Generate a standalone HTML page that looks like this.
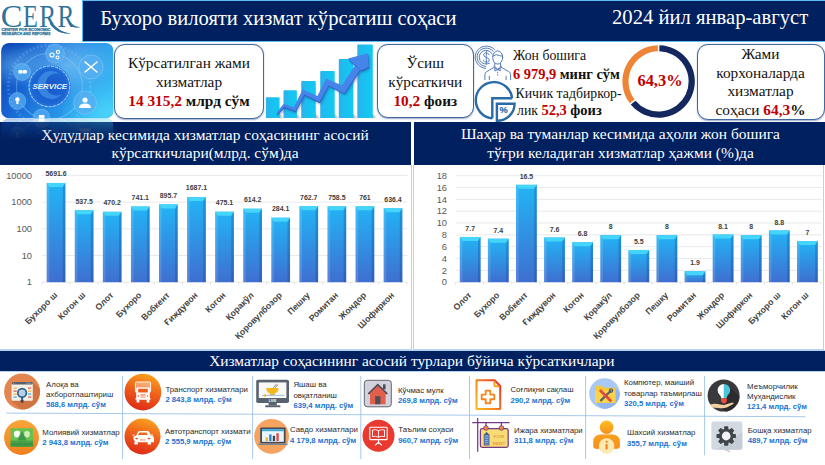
<!DOCTYPE html>
<html><head><meta charset="utf-8">
<style>
html,body{margin:0;padding:0;}
body{width:825px;height:465px;overflow:hidden;background:#fff;position:relative;font-family:"Liberation Serif",serif;}
.abs{position:absolute;}
.navy{background:#002060;}
.ttl{color:#fff;font-family:"Liberation Serif",serif;white-space:nowrap;}
.box{position:absolute;border:1px solid #41689f;border-radius:11px;background:#fff;box-sizing:border-box;text-align:center;font-family:"Liberation Serif",serif;color:#111;box-shadow:0 0.5px 1.5px rgba(60,90,150,.5);white-space:nowrap;}
.red{color:#c00000;font-weight:bold;}
.b{font-weight:bold;}
svg text.ax{font-family:"Liberation Sans",sans-serif;font-size:9.3px;fill:#595959;}
svg text.vl{font-family:"Liberation Sans",sans-serif;font-size:6.95px;font-weight:bold;fill:#404040;}
svg text.ct{font-family:"Liberation Sans",sans-serif;font-size:8.75px;font-weight:bold;fill:#454545;}
svg text.it{font-family:"Liberation Sans",sans-serif;font-size:7.85px;fill:#2b2b2b;}
svg text.iv{font-family:"Liberation Sans",sans-serif;font-size:7.7px;font-weight:bold;fill:#1a72d2;}
</style></head><body>
<!-- top banner -->
<div class="abs" style="left:81.7px;top:0;width:744px;height:41.9px;background:#5dbcf0;"></div>
<div class="abs navy" style="left:82.9px;top:1px;width:743px;height:40.1px;"></div>
<div class="abs ttl" style="left:100.3px;top:1.7px;font-size:20.6px;line-height:32px;">Бухоро вилояти хизмат кўрсатиш соҳаси</div>
<div class="abs ttl" style="left:612px;top:1.4px;font-size:20.65px;line-height:32px;">2024 йил январ-август</div>
<!-- logo -->

<svg class="abs" style="left:0;top:0" width="82" height="42" viewBox="0 0 82 42">
<g fill="#2f7399" font-family="Liberation Serif" font-size="30.3">
<text transform="translate(0.7,26.8) scale(1.07,1.06)">C</text>
<text transform="translate(23,26.8) scale(0.8,1.06)">E</text>
<text transform="translate(39.2,26.8) scale(0.84,1.06)">R</text>
<text transform="translate(57.6,26.8) scale(0.84,1.06)">R</text>
<path d="M52.2 22.5 C56.5 28.5 62 32.6 70.8 33.3 C62 34.6 55 31 49.8 23.6 Z"/>
<path d="M70.6 22.5 C73.5 25.6 76.5 27 80.8 27 C76.5 28.6 72 27.6 68.2 23.6 Z"/>
<rect x="53" y="24.5" width="5" height="3" fill="#fff"/>
<path d="M52.2 22.5 C56.5 28.5 62 32.6 70.8 33.3 C62 34.6 55 31 49.8 23.6 Z"/>
<text x="1.4" y="30.9" font-family="Liberation Sans" font-weight="bold" font-size="3.9" textLength="49" lengthAdjust="spacingAndGlyphs" stroke="#2f7399" stroke-width="0.25">CENTER FOR ECONOMIC</text>
<text x="1.4" y="35" font-family="Liberation Sans" font-weight="bold" font-size="3.9" textLength="49" lengthAdjust="spacingAndGlyphs" stroke="#2f7399" stroke-width="0.25">RESEARCH AND REFORMS</text>
</g>
</svg>

<!-- section headers -->
<div class="abs navy" style="left:0px;top:121.7px;width:411px;height:43px;"></div>
<div class="abs navy" style="left:414.2px;top:121.7px;width:411px;height:43px;"></div>
<div class="abs ttl" style="left:0;top:125.8px;width:410px;text-align:center;font-size:15.45px;line-height:18.4px;">Ҳудудлар кесимида хизматлар соҳасининг асосий<br>кўрсаткичлари(млрд. сўм)да</div>
<div class="abs ttl" style="left:415px;top:125.3px;width:411px;text-align:center;font-size:15.48px;line-height:18.5px;">Шаҳар ва туманлар кесимида аҳоли жон бошига<br>тўғри келадиган хизматлар ҳажми (%)да</div>
<!-- service image -->
<svg class="abs" style="left:0;top:40px" width="120" height="100" viewBox="0 40 120 100">
<defs>
<linearGradient id="sv1" x1="0" y1="0.2" x2="1" y2="0.6"><stop offset="0" stop-color="#0a44b6"/><stop offset="0.3" stop-color="#1665d2"/><stop offset="0.65" stop-color="#2590e6"/><stop offset="1" stop-color="#2fb6f3"/></linearGradient>
<radialGradient id="sv2" cx="0.6" cy="0.3" r="0.5"><stop offset="0" stop-color="#8fd6fb" stop-opacity="0.6"/><stop offset="1" stop-color="#7fd0fb" stop-opacity="0"/></radialGradient><radialGradient id="sv4" cx="0.98" cy="0.95" r="0.45"><stop offset="0" stop-color="#4fd6fb" stop-opacity="0.9"/><stop offset="1" stop-color="#4fd6fb" stop-opacity="0"/></radialGradient><radialGradient id="sv5" cx="0.12" cy="0.3" r="0.3"><stop offset="0" stop-color="#6fc4f6" stop-opacity="0.55"/><stop offset="1" stop-color="#6fc4f6" stop-opacity="0"/></radialGradient>
<radialGradient id="sv3" cx="0.5" cy="0.5" r="0.5"><stop offset="0" stop-color="#1858c8"/><stop offset="0.8" stop-color="#1c66d4"/><stop offset="1" stop-color="#2a80e2"/></radialGradient>
<linearGradient id="rf" x1="0" y1="0" x2="0" y2="1"><stop offset="0" stop-color="#fff" stop-opacity="0.36"/><stop offset="1" stop-color="#fff" stop-opacity="0"/></linearGradient>
<mask id="rfm"><rect x="0" y="118" width="120" height="22" fill="url(#rf)"/></mask>
<clipPath id="svc"><rect x="1.2" y="43" width="112.4" height="75.4" rx="8"/></clipPath>
</defs>
<g clip-path="url(#svc)"><rect x="1" y="42.3" width="112.3" height="76" fill="url(#sv1)"/>
<rect x="1" y="42.3" width="112.3" height="76" fill="url(#sv2)"/>
<rect x="1" y="42.3" width="112.3" height="76" fill="url(#sv4)"/>
<rect x="1" y="42.3" width="112.3" height="76" fill="url(#sv5)"/>
<circle cx="49.4" cy="86.4" r="33" fill="none" stroke="#9fd8ff" stroke-opacity="0.35" stroke-width="1.2"/>
<circle cx="49.4" cy="86.4" r="41" fill="none" stroke="#9fd8ff" stroke-opacity="0.22" stroke-width="3" stroke-dasharray="2 2"/>
<circle cx="55" cy="53.5" r="9.5" fill="#58aef2" fill-opacity="0.7" stroke="#bfe6ff" stroke-opacity="0.45" stroke-width="0.6"/>
<circle cx="91" cy="67" r="12" fill="#58aef2" fill-opacity="0.7" stroke="#bfe6ff" stroke-opacity="0.45" stroke-width="0.6"/>
<circle cx="85" cy="102.8" r="11.5" fill="#58aef2" fill-opacity="0.7" stroke="#bfe6ff" stroke-opacity="0.45" stroke-width="0.6"/>
<circle cx="17.4" cy="101" r="8.5" fill="#58aef2" fill-opacity="0.7" stroke="#bfe6ff" stroke-opacity="0.45" stroke-width="0.6"/>
<circle cx="22" cy="72" r="8.5" fill="#58aef2" fill-opacity="0.7" stroke="#bfe6ff" stroke-opacity="0.45" stroke-width="0.6"/>
<circle cx="41.6" cy="117" r="8" fill="#58aef2" fill-opacity="0.7" stroke="#bfe6ff" stroke-opacity="0.45" stroke-width="0.6"/>
<circle cx="49.4" cy="86.4" r="21.5" fill="url(#sv3)"/>
<path d="M60 74 a14 14 0 1 0 2 20 a11 11 0 1 1 -2 -20 z" fill="#4fa0ee" opacity="0.55"/>
<circle cx="49.4" cy="86.4" r="20.3" fill="none" stroke="#e8f6ff" stroke-opacity="0.85" stroke-width="0.9" stroke-dasharray="3.2 1"/>
<text x="49.8" y="89.3" text-anchor="middle" font-family="Liberation Sans" font-weight="bold" font-style="italic" font-size="7.6" textLength="34.5" lengthAdjust="spacingAndGlyphs" fill="#eaf6ff">SERVICE</text>
<g fill="none" stroke="#fff" stroke-width="1.1"><circle cx="52" cy="55" r="2"/><circle cx="58" cy="52" r="1.6"/><circle cx="57.5" cy="57.5" r="1.5"/></g>
<g stroke="#fff" stroke-width="1.6" stroke-linecap="round"><line x1="85" y1="62" x2="97" y2="72"/><line x1="97" y1="62" x2="85" y2="72"/></g>
<g fill="#fff"><circle cx="85" cy="100" r="2.6"/><path d="M79 108 q0 -4.5 6 -4.5 q6 0 6 4.5 z"/></g>
<g fill="#fff"><circle cx="17.4" cy="99.5" r="2.2"/><rect x="16.3" y="101.5" width="2.2" height="2.6"/></g>
<g fill="#fff"><rect x="18.5" y="70" width="4" height="3.6" rx="1.2"/><rect x="22.8" y="70" width="4" height="3.6" rx="1.2"/></g>
<rect x="38.8" y="115" width="5.6" height="4" fill="#fff"/></g>
<g mask="url(#rfm)"><g transform="translate(0,236.6) scale(1,-1)" clip-path="url(#svc)"><rect x="1" y="42.3" width="112.3" height="76" fill="url(#sv1)"/>
<rect x="1" y="42.3" width="112.3" height="76" fill="url(#sv2)"/>
<rect x="1" y="42.3" width="112.3" height="76" fill="url(#sv4)"/>
<rect x="1" y="42.3" width="112.3" height="76" fill="url(#sv5)"/>
<circle cx="49.4" cy="86.4" r="33" fill="none" stroke="#9fd8ff" stroke-opacity="0.35" stroke-width="1.2"/>
<circle cx="49.4" cy="86.4" r="41" fill="none" stroke="#9fd8ff" stroke-opacity="0.22" stroke-width="3" stroke-dasharray="2 2"/>
<circle cx="55" cy="53.5" r="9.5" fill="#58aef2" fill-opacity="0.7" stroke="#bfe6ff" stroke-opacity="0.45" stroke-width="0.6"/>
<circle cx="91" cy="67" r="12" fill="#58aef2" fill-opacity="0.7" stroke="#bfe6ff" stroke-opacity="0.45" stroke-width="0.6"/>
<circle cx="85" cy="102.8" r="11.5" fill="#58aef2" fill-opacity="0.7" stroke="#bfe6ff" stroke-opacity="0.45" stroke-width="0.6"/>
<circle cx="17.4" cy="101" r="8.5" fill="#58aef2" fill-opacity="0.7" stroke="#bfe6ff" stroke-opacity="0.45" stroke-width="0.6"/>
<circle cx="22" cy="72" r="8.5" fill="#58aef2" fill-opacity="0.7" stroke="#bfe6ff" stroke-opacity="0.45" stroke-width="0.6"/>
<circle cx="41.6" cy="117" r="8" fill="#58aef2" fill-opacity="0.7" stroke="#bfe6ff" stroke-opacity="0.45" stroke-width="0.6"/>
<circle cx="49.4" cy="86.4" r="21.5" fill="url(#sv3)"/>
<path d="M60 74 a14 14 0 1 0 2 20 a11 11 0 1 1 -2 -20 z" fill="#4fa0ee" opacity="0.55"/>
<circle cx="49.4" cy="86.4" r="20.3" fill="none" stroke="#e8f6ff" stroke-opacity="0.85" stroke-width="0.9" stroke-dasharray="3.2 1"/>
<text x="49.8" y="89.3" text-anchor="middle" font-family="Liberation Sans" font-weight="bold" font-style="italic" font-size="7.6" textLength="34.5" lengthAdjust="spacingAndGlyphs" fill="#eaf6ff">SERVICE</text>
<g fill="none" stroke="#fff" stroke-width="1.1"><circle cx="52" cy="55" r="2"/><circle cx="58" cy="52" r="1.6"/><circle cx="57.5" cy="57.5" r="1.5"/></g>
<g stroke="#fff" stroke-width="1.6" stroke-linecap="round"><line x1="85" y1="62" x2="97" y2="72"/><line x1="97" y1="62" x2="85" y2="72"/></g>
<g fill="#fff"><circle cx="85" cy="100" r="2.6"/><path d="M79 108 q0 -4.5 6 -4.5 q6 0 6 4.5 z"/></g>
<g fill="#fff"><circle cx="17.4" cy="99.5" r="2.2"/><rect x="16.3" y="101.5" width="2.2" height="2.6"/></g>
<g fill="#fff"><rect x="18.5" y="70" width="4" height="3.6" rx="1.2"/><rect x="22.8" y="70" width="4" height="3.6" rx="1.2"/></g>
<rect x="38.8" y="115" width="5.6" height="4" fill="#fff"/></g></g>
</svg>
<!-- boxes -->
<div class="box" style="left:114px;top:43.5px;width:150px;height:75.4px;font-size:15.35px;line-height:19px;padding-top:8px;">Кўрсатилган жами<br>хизматлар<br><span class="red">14 315,2</span> <span class="b">млрд сўм</span></div>
<div class="box" style="left:377px;top:44px;width:96.5px;height:74px;font-size:15.25px;line-height:19px;padding-top:7.6px;">Ўсиш<br>кўрсаткичи<br><span class="red">10,2</span> <span class="b">фоиз</span></div>
<div class="box" style="left:696.5px;top:44px;width:128px;height:75.5px;font-size:15.35px;line-height:18.4px;padding-top:0.4px;">Жами<br>корхоналарда<br>хизматлар<br>соҳаси <span class="red">64,3</span><span class="b">%</span></div>
<!-- growth icon -->
<svg class="abs" style="left:262px;top:40px" width="118" height="82" viewBox="262 40 118 82">
<defs><linearGradient id="gb" x1="0" y1="0" x2="1" y2="0"><stop offset="0" stop-color="#2cb2ec"/><stop offset="0.5" stop-color="#18c2f0"/><stop offset="1" stop-color="#12c9f3"/></linearGradient>
<linearGradient id="gs" x1="0" y1="0" x2="1" y2="0"><stop offset="0" stop-color="#666" stop-opacity="0.6"/><stop offset="1" stop-color="#777" stop-opacity="0"/></linearGradient>
<filter id="gbl" x="-20%" y="-20%" width="140%" height="140%"><feGaussianBlur stdDeviation="1.1"/></filter></defs>
<polygon points="278.6,118.3 284.1,118.3 284.1,117.2 278.6,113.5" fill="url(#gs)"/>
<polygon points="295.9,118.3 301.4,118.3 301.4,117.2 295.9,113.5" fill="url(#gs)"/>
<polygon points="314.8,118.3 320.3,118.3 320.3,117.2 314.8,113.5" fill="url(#gs)"/>
<polygon points="333.7,118.3 339.2,118.3 339.2,117.2 333.7,113.5" fill="url(#gs)"/>
<polygon points="352.4,118.3 357.9,118.3 357.9,117.2 352.4,113.5" fill="url(#gs)"/>
<polygon points="371.8,118.3 377.3,118.3 377.3,117.2 371.8,113.5" fill="url(#gs)"/>
<path d="M265.9 118.0 V98.3 q0 -1 1 -1 H278.6 q1 0 1 1 V118.0 Z" fill="url(#gb)"/>
<path d="M283.5 118.0 V91.3 q0 -1 1 -1 H295.9 q1 0 1 1 V118.0 Z" fill="url(#gb)"/>
<path d="M301.2 118.0 V81.9 q0 -1 1 -1 H314.8 q1 0 1 1 V118.0 Z" fill="url(#gb)"/>
<path d="M320.2 118.0 V71.9 q0 -1 1 -1 H333.7 q1 0 1 1 V118.0 Z" fill="url(#gb)"/>
<path d="M338.8 118.0 V60.1 q0 -1 1 -1 H352.4 q1 0 1 1 V118.0 Z" fill="url(#gb)"/>
<path d="M357.3 118.0 V45.4 q0 -1 1 -1 H371.8 q1 0 1 1 V118.0 Z" fill="url(#gb)"/>
<polygon points="277.60,113.93 284.49,106.83 295.37,111.19 304.35,94.59 319.53,102.12 328.47,85.41 344.29,93.22 360.44,69.26 353.30,63.60 348.10,58.50 367.90,53.20 368.80,66.80 361.80,70.20 354.76,65.54 342.11,85.58 326.13,78.59 317.47,96.08 302.65,89.61 293.83,107.21 283.71,103.77 276.40,112.87" fill="#1d3f8a" opacity="0.45" transform="translate(1.2,2.4)" filter="url(#gbl)"/>
<polygon points="277.60,113.93 284.49,106.83 295.37,111.19 304.35,94.59 319.53,102.12 328.47,85.41 344.29,93.22 360.44,69.26 353.30,63.60 348.10,58.50 367.90,53.20 368.80,66.80 361.80,70.20 354.76,65.54 342.11,85.58 326.13,78.59 317.47,96.08 302.65,89.61 293.83,107.21 283.71,103.77 276.40,112.87" fill="#2f60c6" transform="translate(0.3,1.1)"/>
<polygon points="277.60,113.93 284.49,106.83 295.37,111.19 304.35,94.59 319.53,102.12 328.47,85.41 344.29,93.22 360.44,69.26 353.30,63.60 348.10,58.50 367.90,53.20 368.80,66.80 361.80,70.20 354.76,65.54 342.11,85.58 326.13,78.59 317.47,96.08 302.65,89.61 293.83,107.21 283.71,103.77 276.40,112.87" fill="#4585ea"/>
</svg>
<!-- person/pie icons -->

<svg class="abs" style="left:470px;top:40px" width="50" height="86" viewBox="470 40 50 86">
<g fill="none" stroke="#557cb8" stroke-width="1" stroke-linecap="round" stroke-linejoin="round">
<path d="M494.5 49.5 A11.2 11.2 0 1 0 485.8 68.4"/>
<path d="M493.3 51.3 A9.2 9.2 0 1 0 485.9 66.4"/>
<path d="M492.2 54 A6.9 6.9 0 1 0 489.5 63.2"/>
<ellipse cx="497.7" cy="57.5" rx="5" ry="6.6"/>
<path d="M492.9 56.2 q3.5 -3 6.5 -0.6 q2.2 1.4 3.3 -0.6"/>
<path d="M494.8 63.2 V66.7 M500.6 63.2 V66.7"/>
<path d="M494 66.7 L497.7 69 L501.4 66.7"/>
<path d="M495.2 68.2 l2.5 1.6 l2.5 -1.6 v2.6 l-2.5 -1.2 l-2.5 1.2 z"/>
<path d="M484.9 79.6 V74.5 q0 -2.2 2 -3 L494 67.4 M501.4 67.4 L508.6 71.5 q2 0.8 2 3 V79.6"/>
<path d="M489.3 76.2 V79.6 M506.1 76.2 V79.6"/>
<path d="M497.7 72.2 v0.6 M497.7 74.6 v0.6"/>
</g>
<g fill="none" stroke="#557cb8" stroke-width="0.95" stroke-linecap="round"><path d="M486.3 50.9 V63.9"/><path d="M489.1 54.6 C488.9 52.3 483.6 52.2 483.6 55 C483.6 57.7 489.3 57.2 489.3 60.1 C489.3 62.9 483.5 62.8 483.3 60.2"/></g>
<g fill="none" stroke="#2a6aa6" stroke-width="2.4">
<path d="M512.1 98.3 H492.3 V118.4 M512.1 98.3 A18.2 18.2 0 1 0 492.3 118.4"/>
<path d="M496.9 103.7 H514.6 A17.5 17 0 0 1 496.9 120.8 Z" fill="#fff"/>
</g>
<text x="503.7" y="112.9" text-anchor="middle" font-family="Liberation Sans" font-weight="bold" font-size="9.2" fill="#2a6aa6" stroke="#2a6aa6" stroke-width="0.2">%</text>
</svg>

<!-- middle text -->
<div class="abs" style="left:513px;top:46.7px;font-size:13.8px;line-height:18px;white-space:nowrap;color:#111;">Жон бошига<br><span class="red" style="font-size:14.45px">6 979,9</span> <span class="b" style="font-size:14.45px">минг сўм</span></div>
<div class="abs" style="left:515.5px;top:84.5px;font-size:13.8px;line-height:17.8px;white-space:nowrap;color:#111;">Кичик тадбиркор-<br><span style="margin-left:1.5px">лик</span> <span class="red" style="font-size:14.5px">52,3</span> <span class="b" style="font-size:14.5px">фоиз</span></div>
<!-- donut -->
<svg class="abs" style="left:615px;top:40px" width="84" height="82" viewBox="615 40 84 82">
<path d="M659.35 48.26 A33.15 33.15 0 1 1 633.13 102.62" fill="none" stroke="#14285f" stroke-width="6.2"/><path d="M632.20 101.44 A33.15 33.15 0 0 1 657.85 48.26" fill="none" stroke="#ee8536" stroke-width="6.2"/>
<text x="660" y="86.4" text-anchor="middle" font-family="Liberation Serif" font-weight="bold" font-size="16.4" fill="#c00000">64,3%</text>
</svg>
<!-- panels -->
<div class="abs" style="left:-1px;top:164.7px;width:412.7px;height:185px;border:1px solid #b4d3ee;border-top:none;box-sizing:border-box;"></div>
<div class="abs" style="left:413.2px;top:164.7px;width:411.3px;height:185px;border:1px solid #b4d3ee;border-top:none;box-sizing:border-box;"></div>
<svg id="charts" width="825" height="465" viewBox="0 0 825 465" style="position:absolute;left:0;top:0">
<defs><linearGradient id="bg" x1="0" y1="0" x2="0" y2="1"><stop offset="0" stop-color="#22b4f5"/><stop offset="1" stop-color="#3f6fd0"/></linearGradient></defs>
<line x1="42" x2="407.4" y1="282.20" y2="282.20" stroke="#e3e3e3" stroke-width="0.8"/>
<text x="32" y="285.40" text-anchor="end" class="ax">1</text>
<line x1="42" x2="407.4" y1="255.50" y2="255.50" stroke="#e3e3e3" stroke-width="0.8"/>
<text x="32" y="258.70" text-anchor="end" class="ax">10</text>
<line x1="42" x2="407.4" y1="228.80" y2="228.80" stroke="#e3e3e3" stroke-width="0.8"/>
<text x="32" y="232.00" text-anchor="end" class="ax">100</text>
<line x1="42" x2="407.4" y1="202.10" y2="202.10" stroke="#e3e3e3" stroke-width="0.8"/>
<text x="32" y="205.30" text-anchor="end" class="ax">1000</text>
<line x1="42" x2="407.4" y1="175.40" y2="175.40" stroke="#e3e3e3" stroke-width="0.8"/>
<text x="32" y="178.60" text-anchor="end" class="ax">10000</text>
<line x1="42.00" x2="42.00" y1="282.2" y2="284.7" stroke="#dcdcdc" stroke-width="0.8"/>
<line x1="70.08" x2="70.08" y1="282.2" y2="284.7" stroke="#dcdcdc" stroke-width="0.8"/>
<line x1="98.16" x2="98.16" y1="282.2" y2="284.7" stroke="#dcdcdc" stroke-width="0.8"/>
<line x1="126.24" x2="126.24" y1="282.2" y2="284.7" stroke="#dcdcdc" stroke-width="0.8"/>
<line x1="154.32" x2="154.32" y1="282.2" y2="284.7" stroke="#dcdcdc" stroke-width="0.8"/>
<line x1="182.40" x2="182.40" y1="282.2" y2="284.7" stroke="#dcdcdc" stroke-width="0.8"/>
<line x1="210.48" x2="210.48" y1="282.2" y2="284.7" stroke="#dcdcdc" stroke-width="0.8"/>
<line x1="238.56" x2="238.56" y1="282.2" y2="284.7" stroke="#dcdcdc" stroke-width="0.8"/>
<line x1="266.64" x2="266.64" y1="282.2" y2="284.7" stroke="#dcdcdc" stroke-width="0.8"/>
<line x1="294.72" x2="294.72" y1="282.2" y2="284.7" stroke="#dcdcdc" stroke-width="0.8"/>
<line x1="322.80" x2="322.80" y1="282.2" y2="284.7" stroke="#dcdcdc" stroke-width="0.8"/>
<line x1="350.88" x2="350.88" y1="282.2" y2="284.7" stroke="#dcdcdc" stroke-width="0.8"/>
<line x1="378.96" x2="378.96" y1="282.2" y2="284.7" stroke="#dcdcdc" stroke-width="0.8"/>
<line x1="407.04" x2="407.04" y1="282.2" y2="284.7" stroke="#dcdcdc" stroke-width="0.8"/>
<g transform="translate(46.70,182.94)"><rect width="18.7" height="99.26" fill="url(#bg)"/><polygon points="0,0 18.7,0 16.099999999999998,4 2.6,4" fill="#45d4fa"/><polygon points="0,0 2.6,4 2.6,99.26 0,99.26" fill="#ffffff" opacity="0.13"/><polygon points="18.7,0 16.099999999999998,4 16.099999999999998,99.26 18.7,99.26" fill="#002a80" opacity="0.22"/></g>
<g transform="translate(74.78,210.30)"><rect width="18.7" height="71.90" fill="url(#bg)"/><polygon points="0,0 18.7,0 16.099999999999998,4 2.6,4" fill="#45d4fa"/><polygon points="0,0 2.6,4 2.6,71.90 0,71.90" fill="#ffffff" opacity="0.13"/><polygon points="18.7,0 16.099999999999998,4 16.099999999999998,71.90 18.7,71.90" fill="#002a80" opacity="0.22"/></g>
<g transform="translate(102.86,211.85)"><rect width="18.7" height="70.35" fill="url(#bg)"/><polygon points="0,0 18.7,0 16.099999999999998,4 2.6,4" fill="#45d4fa"/><polygon points="0,0 2.6,4 2.6,70.35 0,70.35" fill="#ffffff" opacity="0.13"/><polygon points="18.7,0 16.099999999999998,4 16.099999999999998,70.35 18.7,70.35" fill="#002a80" opacity="0.22"/></g>
<g transform="translate(130.94,206.57)"><rect width="18.7" height="75.63" fill="url(#bg)"/><polygon points="0,0 18.7,0 16.099999999999998,4 2.6,4" fill="#45d4fa"/><polygon points="0,0 2.6,4 2.6,75.63 0,75.63" fill="#ffffff" opacity="0.13"/><polygon points="18.7,0 16.099999999999998,4 16.099999999999998,75.63 18.7,75.63" fill="#002a80" opacity="0.22"/></g>
<g transform="translate(159.02,204.38)"><rect width="18.7" height="77.82" fill="url(#bg)"/><polygon points="0,0 18.7,0 16.099999999999998,4 2.6,4" fill="#45d4fa"/><polygon points="0,0 2.6,4 2.6,77.82 0,77.82" fill="#ffffff" opacity="0.13"/><polygon points="18.7,0 16.099999999999998,4 16.099999999999998,77.82 18.7,77.82" fill="#002a80" opacity="0.22"/></g>
<g transform="translate(187.10,197.04)"><rect width="18.7" height="85.16" fill="url(#bg)"/><polygon points="0,0 18.7,0 16.099999999999998,4 2.6,4" fill="#45d4fa"/><polygon points="0,0 2.6,4 2.6,85.16 0,85.16" fill="#ffffff" opacity="0.13"/><polygon points="18.7,0 16.099999999999998,4 16.099999999999998,85.16 18.7,85.16" fill="#002a80" opacity="0.22"/></g>
<g transform="translate(215.18,211.73)"><rect width="18.7" height="70.47" fill="url(#bg)"/><polygon points="0,0 18.7,0 16.099999999999998,4 2.6,4" fill="#45d4fa"/><polygon points="0,0 2.6,4 2.6,70.47 0,70.47" fill="#ffffff" opacity="0.13"/><polygon points="18.7,0 16.099999999999998,4 16.099999999999998,70.47 18.7,70.47" fill="#002a80" opacity="0.22"/></g>
<g transform="translate(243.26,208.75)"><rect width="18.7" height="73.45" fill="url(#bg)"/><polygon points="0,0 18.7,0 16.099999999999998,4 2.6,4" fill="#45d4fa"/><polygon points="0,0 2.6,4 2.6,73.45 0,73.45" fill="#ffffff" opacity="0.13"/><polygon points="18.7,0 16.099999999999998,4 16.099999999999998,73.45 18.7,73.45" fill="#002a80" opacity="0.22"/></g>
<g transform="translate(271.34,217.69)"><rect width="18.7" height="64.51" fill="url(#bg)"/><polygon points="0,0 18.7,0 16.099999999999998,4 2.6,4" fill="#45d4fa"/><polygon points="0,0 2.6,4 2.6,64.51 0,64.51" fill="#ffffff" opacity="0.13"/><polygon points="18.7,0 16.099999999999998,4 16.099999999999998,64.51 18.7,64.51" fill="#002a80" opacity="0.22"/></g>
<g transform="translate(299.42,206.24)"><rect width="18.7" height="75.96" fill="url(#bg)"/><polygon points="0,0 18.7,0 16.099999999999998,4 2.6,4" fill="#45d4fa"/><polygon points="0,0 2.6,4 2.6,75.96 0,75.96" fill="#ffffff" opacity="0.13"/><polygon points="18.7,0 16.099999999999998,4 16.099999999999998,75.96 18.7,75.96" fill="#002a80" opacity="0.22"/></g>
<g transform="translate(327.50,206.31)"><rect width="18.7" height="75.89" fill="url(#bg)"/><polygon points="0,0 18.7,0 16.099999999999998,4 2.6,4" fill="#45d4fa"/><polygon points="0,0 2.6,4 2.6,75.89 0,75.89" fill="#ffffff" opacity="0.13"/><polygon points="18.7,0 16.099999999999998,4 16.099999999999998,75.89 18.7,75.89" fill="#002a80" opacity="0.22"/></g>
<g transform="translate(355.58,206.27)"><rect width="18.7" height="75.93" fill="url(#bg)"/><polygon points="0,0 18.7,0 16.099999999999998,4 2.6,4" fill="#45d4fa"/><polygon points="0,0 2.6,4 2.6,75.93 0,75.93" fill="#ffffff" opacity="0.13"/><polygon points="18.7,0 16.099999999999998,4 16.099999999999998,75.93 18.7,75.93" fill="#002a80" opacity="0.22"/></g>
<g transform="translate(383.66,208.34)"><rect width="18.7" height="73.86" fill="url(#bg)"/><polygon points="0,0 18.7,0 16.099999999999998,4 2.6,4" fill="#45d4fa"/><polygon points="0,0 2.6,4 2.6,73.86 0,73.86" fill="#ffffff" opacity="0.13"/><polygon points="18.7,0 16.099999999999998,4 16.099999999999998,73.86 18.7,73.86" fill="#002a80" opacity="0.22"/></g>
<text x="56.05" y="176.24" text-anchor="middle" class="vl">5691.6</text>
<text x="84.13" y="203.60" text-anchor="middle" class="vl">537.5</text>
<text x="112.21" y="205.15" text-anchor="middle" class="vl">470.2</text>
<text x="140.29" y="199.87" text-anchor="middle" class="vl">741.1</text>
<text x="168.37" y="197.68" text-anchor="middle" class="vl">895.7</text>
<text x="196.45" y="190.34" text-anchor="middle" class="vl">1687.1</text>
<text x="224.53" y="205.03" text-anchor="middle" class="vl">475.1</text>
<text x="252.61" y="202.05" text-anchor="middle" class="vl">614.2</text>
<text x="280.69" y="210.99" text-anchor="middle" class="vl">284.1</text>
<text x="308.77" y="199.54" text-anchor="middle" class="vl">762.7</text>
<text x="336.85" y="199.61" text-anchor="middle" class="vl">758.5</text>
<text x="364.93" y="199.57" text-anchor="middle" class="vl">761</text>
<text x="393.01" y="201.64" text-anchor="middle" class="vl">636.4</text>
<text transform="translate(57.85,295.70) rotate(-45)" text-anchor="end" class="ct">Бухоро ш</text>
<text transform="translate(85.93,295.70) rotate(-45)" text-anchor="end" class="ct">Когон ш</text>
<text transform="translate(114.01,295.70) rotate(-45)" text-anchor="end" class="ct">Олот</text>
<text transform="translate(142.09,295.70) rotate(-45)" text-anchor="end" class="ct">Бухоро</text>
<text transform="translate(170.17,295.70) rotate(-45)" text-anchor="end" class="ct">Вобкент</text>
<text transform="translate(198.25,295.70) rotate(-45)" text-anchor="end" class="ct">Ғиждувон</text>
<text transform="translate(226.33,295.70) rotate(-45)" text-anchor="end" class="ct">Когон</text>
<text transform="translate(254.41,295.70) rotate(-45)" text-anchor="end" class="ct">Қоракўл</text>
<text transform="translate(282.49,295.70) rotate(-45)" text-anchor="end" class="ct">Қоровулбозор</text>
<text transform="translate(310.57,295.70) rotate(-45)" text-anchor="end" class="ct">Пешку</text>
<text transform="translate(338.65,295.70) rotate(-45)" text-anchor="end" class="ct">Ромитан</text>
<text transform="translate(366.73,295.70) rotate(-45)" text-anchor="end" class="ct">Жондор</text>
<text transform="translate(394.81,295.70) rotate(-45)" text-anchor="end" class="ct">Шофиркон</text>
<line x1="456.3" x2="822" y1="282.20" y2="282.20" stroke="#e3e3e3" stroke-width="0.8"/>
<text x="447" y="285.40" text-anchor="end" class="ax">0</text>
<line x1="456.3" x2="822" y1="270.37" y2="270.37" stroke="#e3e3e3" stroke-width="0.8"/>
<text x="447" y="273.57" text-anchor="end" class="ax">2</text>
<line x1="456.3" x2="822" y1="258.53" y2="258.53" stroke="#e3e3e3" stroke-width="0.8"/>
<text x="447" y="261.73" text-anchor="end" class="ax">4</text>
<line x1="456.3" x2="822" y1="246.70" y2="246.70" stroke="#e3e3e3" stroke-width="0.8"/>
<text x="447" y="249.90" text-anchor="end" class="ax">6</text>
<line x1="456.3" x2="822" y1="234.86" y2="234.86" stroke="#e3e3e3" stroke-width="0.8"/>
<text x="447" y="238.06" text-anchor="end" class="ax">8</text>
<line x1="456.3" x2="822" y1="223.03" y2="223.03" stroke="#e3e3e3" stroke-width="0.8"/>
<text x="447" y="226.23" text-anchor="end" class="ax">10</text>
<line x1="456.3" x2="822" y1="211.20" y2="211.20" stroke="#e3e3e3" stroke-width="0.8"/>
<text x="447" y="214.40" text-anchor="end" class="ax">12</text>
<line x1="456.3" x2="822" y1="199.36" y2="199.36" stroke="#e3e3e3" stroke-width="0.8"/>
<text x="447" y="202.56" text-anchor="end" class="ax">14</text>
<line x1="456.3" x2="822" y1="187.53" y2="187.53" stroke="#e3e3e3" stroke-width="0.8"/>
<text x="447" y="190.73" text-anchor="end" class="ax">16</text>
<line x1="456.3" x2="822" y1="175.69" y2="175.69" stroke="#e3e3e3" stroke-width="0.8"/>
<text x="447" y="178.89" text-anchor="end" class="ax">18</text>
<line x1="455.50" x2="455.50" y1="282.2" y2="284.7" stroke="#dcdcdc" stroke-width="0.8"/>
<line x1="483.60" x2="483.60" y1="282.2" y2="284.7" stroke="#dcdcdc" stroke-width="0.8"/>
<line x1="511.70" x2="511.70" y1="282.2" y2="284.7" stroke="#dcdcdc" stroke-width="0.8"/>
<line x1="539.80" x2="539.80" y1="282.2" y2="284.7" stroke="#dcdcdc" stroke-width="0.8"/>
<line x1="567.90" x2="567.90" y1="282.2" y2="284.7" stroke="#dcdcdc" stroke-width="0.8"/>
<line x1="596.00" x2="596.00" y1="282.2" y2="284.7" stroke="#dcdcdc" stroke-width="0.8"/>
<line x1="624.10" x2="624.10" y1="282.2" y2="284.7" stroke="#dcdcdc" stroke-width="0.8"/>
<line x1="652.20" x2="652.20" y1="282.2" y2="284.7" stroke="#dcdcdc" stroke-width="0.8"/>
<line x1="680.30" x2="680.30" y1="282.2" y2="284.7" stroke="#dcdcdc" stroke-width="0.8"/>
<line x1="708.40" x2="708.40" y1="282.2" y2="284.7" stroke="#dcdcdc" stroke-width="0.8"/>
<line x1="736.50" x2="736.50" y1="282.2" y2="284.7" stroke="#dcdcdc" stroke-width="0.8"/>
<line x1="764.60" x2="764.60" y1="282.2" y2="284.7" stroke="#dcdcdc" stroke-width="0.8"/>
<line x1="792.70" x2="792.70" y1="282.2" y2="284.7" stroke="#dcdcdc" stroke-width="0.8"/>
<line x1="820.80" x2="820.80" y1="282.2" y2="284.7" stroke="#dcdcdc" stroke-width="0.8"/>
<g transform="translate(459.80,236.94)"><rect width="20.8" height="45.26" fill="url(#bg)"/><polygon points="0,0 20.8,0 18.2,4 2.6,4" fill="#45d4fa"/><polygon points="0,0 2.6,4 2.6,45.26 0,45.26" fill="#ffffff" opacity="0.13"/><polygon points="20.8,0 18.2,4 18.2,45.26 20.8,45.26" fill="#002a80" opacity="0.22"/></g>
<g transform="translate(487.90,238.71)"><rect width="20.8" height="43.49" fill="url(#bg)"/><polygon points="0,0 20.8,0 18.2,4 2.6,4" fill="#45d4fa"/><polygon points="0,0 2.6,4 2.6,43.49 0,43.49" fill="#ffffff" opacity="0.13"/><polygon points="20.8,0 18.2,4 18.2,43.49 20.8,43.49" fill="#002a80" opacity="0.22"/></g>
<g transform="translate(516.00,184.87)"><rect width="20.8" height="97.33" fill="url(#bg)"/><polygon points="0,0 20.8,0 18.2,4 2.6,4" fill="#45d4fa"/><polygon points="0,0 2.6,4 2.6,97.33 0,97.33" fill="#ffffff" opacity="0.13"/><polygon points="20.8,0 18.2,4 18.2,97.33 20.8,97.33" fill="#002a80" opacity="0.22"/></g>
<g transform="translate(544.10,237.53)"><rect width="20.8" height="44.67" fill="url(#bg)"/><polygon points="0,0 20.8,0 18.2,4 2.6,4" fill="#45d4fa"/><polygon points="0,0 2.6,4 2.6,44.67 0,44.67" fill="#ffffff" opacity="0.13"/><polygon points="20.8,0 18.2,4 18.2,44.67 20.8,44.67" fill="#002a80" opacity="0.22"/></g>
<g transform="translate(572.20,242.26)"><rect width="20.8" height="39.94" fill="url(#bg)"/><polygon points="0,0 20.8,0 18.2,4 2.6,4" fill="#45d4fa"/><polygon points="0,0 2.6,4 2.6,39.94 0,39.94" fill="#ffffff" opacity="0.13"/><polygon points="20.8,0 18.2,4 18.2,39.94 20.8,39.94" fill="#002a80" opacity="0.22"/></g>
<g transform="translate(600.30,235.16)"><rect width="20.8" height="47.04" fill="url(#bg)"/><polygon points="0,0 20.8,0 18.2,4 2.6,4" fill="#45d4fa"/><polygon points="0,0 2.6,4 2.6,47.04 0,47.04" fill="#ffffff" opacity="0.13"/><polygon points="20.8,0 18.2,4 18.2,47.04 20.8,47.04" fill="#002a80" opacity="0.22"/></g>
<g transform="translate(628.40,249.96)"><rect width="20.8" height="32.24" fill="url(#bg)"/><polygon points="0,0 20.8,0 18.2,4 2.6,4" fill="#45d4fa"/><polygon points="0,0 2.6,4 2.6,32.24 0,32.24" fill="#ffffff" opacity="0.13"/><polygon points="20.8,0 18.2,4 18.2,32.24 20.8,32.24" fill="#002a80" opacity="0.22"/></g>
<g transform="translate(656.50,235.16)"><rect width="20.8" height="47.04" fill="url(#bg)"/><polygon points="0,0 20.8,0 18.2,4 2.6,4" fill="#45d4fa"/><polygon points="0,0 2.6,4 2.6,47.04 0,47.04" fill="#ffffff" opacity="0.13"/><polygon points="20.8,0 18.2,4 18.2,47.04 20.8,47.04" fill="#002a80" opacity="0.22"/></g>
<g transform="translate(684.60,271.26)"><rect width="20.8" height="10.94" fill="url(#bg)"/><polygon points="0,0 20.8,0 18.2,4 2.6,4" fill="#45d4fa"/><polygon points="0,0 2.6,4 2.6,10.94 0,10.94" fill="#ffffff" opacity="0.13"/><polygon points="20.8,0 18.2,4 18.2,10.94 20.8,10.94" fill="#002a80" opacity="0.22"/></g>
<g transform="translate(712.70,234.57)"><rect width="20.8" height="47.63" fill="url(#bg)"/><polygon points="0,0 20.8,0 18.2,4 2.6,4" fill="#45d4fa"/><polygon points="0,0 2.6,4 2.6,47.63 0,47.63" fill="#ffffff" opacity="0.13"/><polygon points="20.8,0 18.2,4 18.2,47.63 20.8,47.63" fill="#002a80" opacity="0.22"/></g>
<g transform="translate(740.80,235.16)"><rect width="20.8" height="47.04" fill="url(#bg)"/><polygon points="0,0 20.8,0 18.2,4 2.6,4" fill="#45d4fa"/><polygon points="0,0 2.6,4 2.6,47.04 0,47.04" fill="#ffffff" opacity="0.13"/><polygon points="20.8,0 18.2,4 18.2,47.04 20.8,47.04" fill="#002a80" opacity="0.22"/></g>
<g transform="translate(768.90,230.43)"><rect width="20.8" height="51.77" fill="url(#bg)"/><polygon points="0,0 20.8,0 18.2,4 2.6,4" fill="#45d4fa"/><polygon points="0,0 2.6,4 2.6,51.77 0,51.77" fill="#ffffff" opacity="0.13"/><polygon points="20.8,0 18.2,4 18.2,51.77 20.8,51.77" fill="#002a80" opacity="0.22"/></g>
<g transform="translate(797.00,241.08)"><rect width="20.8" height="41.12" fill="url(#bg)"/><polygon points="0,0 20.8,0 18.2,4 2.6,4" fill="#45d4fa"/><polygon points="0,0 2.6,4 2.6,41.12 0,41.12" fill="#ffffff" opacity="0.13"/><polygon points="20.8,0 18.2,4 18.2,41.12 20.8,41.12" fill="#002a80" opacity="0.22"/></g>
<text x="470.20" y="231.04" text-anchor="middle" class="vl">7.7</text>
<text x="498.30" y="232.81" text-anchor="middle" class="vl">7.4</text>
<text x="526.40" y="178.97" text-anchor="middle" class="vl">16.5</text>
<text x="554.50" y="231.63" text-anchor="middle" class="vl">7.6</text>
<text x="582.60" y="236.36" text-anchor="middle" class="vl">6.8</text>
<text x="610.70" y="229.26" text-anchor="middle" class="vl">8</text>
<text x="638.80" y="244.06" text-anchor="middle" class="vl">5.5</text>
<text x="666.90" y="229.26" text-anchor="middle" class="vl">8</text>
<text x="695.00" y="265.36" text-anchor="middle" class="vl">1.9</text>
<text x="723.10" y="228.67" text-anchor="middle" class="vl">8.1</text>
<text x="751.20" y="229.26" text-anchor="middle" class="vl">8</text>
<text x="779.30" y="224.53" text-anchor="middle" class="vl">8.8</text>
<text x="807.40" y="235.18" text-anchor="middle" class="vl">7</text>
<text transform="translate(472.00,295.70) rotate(-45)" text-anchor="end" class="ct">Олот</text>
<text transform="translate(500.10,295.70) rotate(-45)" text-anchor="end" class="ct">Бухоро</text>
<text transform="translate(528.20,295.70) rotate(-45)" text-anchor="end" class="ct">Вобкент</text>
<text transform="translate(556.30,295.70) rotate(-45)" text-anchor="end" class="ct">Ғиждувон</text>
<text transform="translate(584.40,295.70) rotate(-45)" text-anchor="end" class="ct">Когон</text>
<text transform="translate(612.50,295.70) rotate(-45)" text-anchor="end" class="ct">Қоракўл</text>
<text transform="translate(640.60,295.70) rotate(-45)" text-anchor="end" class="ct">Қоровулбозор</text>
<text transform="translate(668.70,295.70) rotate(-45)" text-anchor="end" class="ct">Пешку</text>
<text transform="translate(696.80,295.70) rotate(-45)" text-anchor="end" class="ct">Ромитан</text>
<text transform="translate(724.90,295.70) rotate(-45)" text-anchor="end" class="ct">Жондор</text>
<text transform="translate(753.00,295.70) rotate(-45)" text-anchor="end" class="ct">Шофиркон</text>
<text transform="translate(781.10,295.70) rotate(-45)" text-anchor="end" class="ct">Бухоро ш</text>
<text transform="translate(809.20,295.70) rotate(-45)" text-anchor="end" class="ct">Когон ш</text>
</svg>
<!-- bottom header -->
<div class="abs" style="left:0;top:350px;width:825px;height:22px;background:#b4d3ee;"></div>
<div class="abs navy" style="left:0;top:351.1px;width:825px;height:20.4px;"></div>
<div class="abs ttl" style="left:0;top:351.2px;width:823.6px;text-align:center;font-size:15.42px;line-height:20px;">Хизматлар соҳасининг асосий турлари бўйича кўрсаткичлари</div>
<!-- bottom items -->
<svg class="abs" style="left:0;top:372px" width="825" height="93" viewBox="0 372 825 93">
<defs>
<linearGradient id="og" x1="0.65" y1="0" x2="0.35" y2="1"><stop offset="0" stop-color="#f9a21e"/><stop offset="0.5" stop-color="#ef5c1c"/><stop offset="1" stop-color="#dd2a18"/></linearGradient>
<linearGradient id="og2" x1="0.5" y1="0" x2="0.5" y2="1"><stop offset="0" stop-color="#f9a53a"/><stop offset="1" stop-color="#f07f1e"/></linearGradient>
<linearGradient id="doc" x1="0" y1="1" x2="1" y2="0.2"><stop offset="0" stop-color="#fbb81c"/><stop offset="0.45" stop-color="#f58a1e"/><stop offset="1" stop-color="#e9352a"/></linearGradient>
<linearGradient id="doc2" x1="0" y1="0" x2="0" y2="1"><stop offset="0" stop-color="#f7941d"/><stop offset="1" stop-color="#f9b01c"/></linearGradient>
<linearGradient id="pg" x1="0.5" y1="0" x2="0.5" y2="1"><stop offset="0" stop-color="#fcc31c"/><stop offset="1" stop-color="#f78d1e"/></linearGradient>
<clipPath id="c1"><circle cx="22.1" cy="391.5" r="18"/></clipPath>
<clipPath id="c6"><circle cx="604.5" cy="393.5" r="15.3"/></clipPath>
<clipPath id="c7"><circle cx="723.6" cy="395.6" r="16"/></clipPath>
<clipPath id="c8"><circle cx="21.5" cy="437.5" r="17.4"/></clipPath>
</defs>
<line x1="122.6" x2="122.6" y1="376" y2="459" stroke="#9cc3e8" stroke-width="0.9"/>
<line x1="252.6" x2="252.6" y1="376" y2="459" stroke="#9cc3e8" stroke-width="0.9"/>
<line x1="360.8" x2="360.8" y1="376" y2="459" stroke="#9cc3e8" stroke-width="0.9"/>
<line x1="469.5" x2="469.5" y1="376" y2="459" stroke="#9cc3e8" stroke-width="0.9"/>
<line x1="585.6" x2="585.6" y1="376" y2="459" stroke="#9cc3e8" stroke-width="0.9"/>
<line x1="704.6" x2="704.6" y1="376" y2="455.4" stroke="#9cc3e8" stroke-width="0.9"/>
<line x1="6" y1="413.1" x2="805.4" y2="416.7" stroke="#9cc3e8" stroke-width="0.9"/>
<g>
<circle cx="22.1" cy="391.5" r="18" fill="#e2854f"/>
<g clip-path="url(#c1)"><polygon points="33,382 50,399 34,420 11,401 " fill="#c96f3e" opacity="0.75"/></g>
<rect x="11.6" y="381.9" width="21.2" height="18.8" rx="1" fill="#f3f0ea"/>
<rect x="11.6" y="381.9" width="21.2" height="2.5" rx="0.8" fill="#59616b"/><circle cx="13.4" cy="383.1" r="0.55" fill="#f2b632"/><circle cx="15" cy="383.1" r="0.55" fill="#e0564a"/><rect x="26" y="382.7" width="5.4" height="0.9" fill="#8fa3b4"/>
<g fill="#f2b632"><rect x="13.5" y="387.5" width="3.2" height="1.2"/><rect x="13.5" y="393.5" width="3.2" height="1.2"/><rect x="28" y="390.5" width="3.2" height="1.2"/></g>
<g fill="#e0564a"><rect x="13.5" y="390.5" width="3.2" height="1.2"/><rect x="28" y="387.5" width="3.2" height="1.2"/><rect x="28" y="396.5" width="3.2" height="1.2"/></g>
<g fill="#3fa9d6"><rect x="13.5" y="396.5" width="3.2" height="1.2"/><rect x="28" y="393.5" width="3.2" height="1.2"/></g>
<circle cx="22.1" cy="392.9" r="4.3" fill="#b4d2e6" stroke="#2f5f8f" stroke-width="1.7"/>
<rect x="21.1" y="397.8" width="2" height="2" fill="#2f5f8f"/><rect x="20.7" y="399.4" width="2.8" height="3.4" rx="0.8" fill="#3f4852"/>
</g>
<g>
<circle cx="142.9" cy="392.1" r="18.4" fill="url(#og)"/>
<rect x="135.4" y="382" width="15.2" height="9.6" rx="0.8" fill="#fff" fill-opacity="0.35" stroke="#fff" stroke-width="0.9"/>
<g fill="#fff">
<path d="M137.2 387.6 h11.6 q1 0 1 1 v9.6 h-13.6 v-9.6 q0 -1 1 -1 z"/>
<rect x="135.4" y="390" width="1.2" height="2.4"/><rect x="149.4" y="390" width="1.2" height="2.4"/>
<rect x="135.6" y="398" width="14.8" height="1.8"/>
<rect x="136.6" y="399.6" width="2.8" height="3" rx="0.5"/><rect x="146.6" y="399.6" width="2.8" height="3" rx="0.5"/>
</g>
<g fill="#ee5a1c"><rect x="138.2" y="388.8" width="9.6" height="3.6" rx="0.4"/><circle cx="138.4" cy="396" r="0.8"/><circle cx="147.6" cy="396" r="0.8"/><rect x="140.4" y="394.4" width="5.2" height="0.6"/><rect x="140.4" y="395.6" width="5.2" height="0.6"/><rect x="140.4" y="396.8" width="5.2" height="0.6"/></g>
</g>
<g>
<rect x="256.2" y="379.8" width="32.8" height="23.2" rx="1.8" fill="#59636e"/>
<rect x="258.8" y="382.4" width="27.6" height="15.6" fill="#f8f8f8"/>
<text x="272.6" y="401.9" text-anchor="middle" font-family="Liberation Sans" font-weight="bold" font-size="3.4" fill="#fff">LIVE</text>
<rect x="268.6" y="403" width="8.2" height="2.4" fill="#59636e"/>
<rect x="265.2" y="405.2" width="15.2" height="2.1" rx="0.6" fill="#59636e"/>
<line x1="262" y1="395.4" x2="284" y2="395.4" stroke="#6ea8dc" stroke-width="0.7"/>
<circle cx="265" cy="395.4" r="1.2" fill="#f2b01e"/>
<path d="M266.2 388 h12.4 q-0.3 5.8 -6.2 5.8 q-5.9 0 -6.2 -5.8 z" fill="#f7b81c"/>
<rect x="269.8" y="393.6" width="5.2" height="1.1" fill="#e09a14"/>
<path d="M273.2 387.8 l3.4 -4 M274.8 387.8 l3.4 -3.2" stroke="#5b4a3a" stroke-width="0.7" fill="none"/>
</g>
<g>
<rect x="364.3" y="380.3" width="27" height="26.5" rx="3" fill="#d3d1dc" stroke="#55585e" stroke-width="0.9"/>
<rect x="383" y="384.3" width="2.6" height="5" fill="#4d4f55"/>
<path d="M368 393 L377.8 383.6 L387.6 393 V394.2 H368 Z" fill="#4d4f55"/>
<path d="M370 393.2 L377.8 385.8 L385.6 393.2 V404.2 H370 Z" fill="#e25f4e"/>
<rect x="375.2" y="396.2" width="5.2" height="8" fill="#4d4f55"/>
</g>
<g fill="none" stroke="url(#doc)" stroke-width="2" stroke-linejoin="round">
<path d="M476.5 380.2 H494.6 L500.2 386 V409 H476.5 Z"/>
<path d="M494.4 380.4 V386.2 H500"/>
<path d="M485.7 390.6 h4.6 v4 h4 v4.6 h-4 v4 h-4.6 v-4 h-4 v-4.6 h4 z" stroke="#f5871f" stroke-width="1.9"/>
</g>
<g>
<circle cx="604.5" cy="393.5" r="15.3" fill="#a9c8f3"/>
<g clip-path="url(#c6)"><polygon points="615.2,388 630,402 612,418 596,402.7 615.2,402.7" fill="#8db4ea" opacity="0.9"/></g>
<path d="M595 387.2 q0 -1.4 1.4 -1.4 h5.4 l1.8 2 h10.4 q1.4 0 1.4 1.4 v12.1 q0 1.4 -1.4 1.4 h-17.6 q-1.4 0 -1.4 -1.4 z" fill="#f9c835"/>
<path d="M595 390.4 h20.4 v10.9 q0 1.4 -1.4 1.4 h-17.6 q-1.4 0 -1.4 -1.4 z" fill="#fbd34a"/>
<g stroke-linecap="round"><line x1="610.6" y1="391" x2="601" y2="400.4" stroke="#5a636e" stroke-width="2.3"/><line x1="600.6" y1="390.8" x2="610.4" y2="400.4" stroke="#e2493b" stroke-width="2.8"/>
<circle cx="611" cy="390.6" r="1.7" fill="none" stroke="#5a636e" stroke-width="1.2"/></g>
</g>
<g>
<circle cx="723.6" cy="395.6" r="16" fill="#3a3a3d"/>
<g clip-path="url(#c7)"><polygon points="729,386 745,402 730,416 718,404 726,398" fill="#2b2b2e" opacity="0.9"/>
<path d="M710 404.6 q4 -1.4 7.6 -0.7 l6.4 1.1 q5.4 -1.6 8.8 -2.5 q1.5 0.4 0.4 1.6 l-6.4 3.4 q-3.6 1.2 -8 0.6 l-8.8 -0.5 z" fill="#f6cfa0"/></g>
<path d="M723.9 384 a6.3 6.3 0 0 0 -6.3 6.3 q0 2.8 2.6 5.2 q1 1 1 2.8 h2.7 z" fill="#ffffff"/>
<path d="M723.9 384 a6.3 6.3 0 0 1 6.3 6.3 q0 2.8 -2.6 5.2 q-1 1 -1 2.8 h-2.7 z" fill="#4cc4da"/>
<path d="M721 398.2 h5.8 v2.2 q0 2.6 -2.9 3.2 q-2.9 -0.6 -2.9 -3.2 z" fill="#e94d3c"/>
</g>
<g>
<circle cx="21.5" cy="437.5" r="17.4" fill="url(#og2)"/>
<rect x="10.6" y="428.3" width="22.5" height="18.4" rx="0.8" fill="#68c250"/>
<rect x="10.6" y="440.6" width="22.5" height="2.4" fill="#4aa14b"/>
<rect x="10.6" y="443" width="22.5" height="3.7" fill="#3f9443"/>
<path d="M22 431 l4.6 9.6 h-9.2 z" fill="#3f9a46"/><path d="M14.3 431.6 l3.2 -1.2 l2.8 1.4 l-0.6 3.2 l-1.6 2.6 l-3.2 -0.4 l-1 -2.8 z" fill="#fff" opacity="0.95"/>
<path d="M24.3 431.8 l3.4 -1 l2.2 2 l-0.4 3.6 l-2.6 1.4 l-2.6 -2 z" fill="#dff2c8" opacity="0.9"/>
</g>
<g>
<circle cx="142.5" cy="436.4" r="18" fill="url(#og)"/>
<g fill="#fff">
<path d="M133.2 438.4 q0 -1.8 1.4 -2.4 l1.6 -0.6 l1.8 -3.4 q0.6 -1 1.8 -1 h7.6 q1.2 0 1.8 1 l1.8 3.4 l1.6 0.6 q1.4 0.6 1.4 2.4 v3.8 h-18.8 z M138 435 h9.8 l-1.3 -2.5 h-7.2 z" fill-rule="evenodd"/>
<rect x="134.4" y="442" width="3.4" height="2.4" rx="0.5"/><rect x="147.6" y="442" width="3.4" height="2.4" rx="0.5"/>
<rect x="132.4" y="434.4" width="2.2" height="1.1" rx="0.5"/><rect x="151" y="434.4" width="2.2" height="1.1" rx="0.5"/>
</g>
<g fill="#ee5a1c"><ellipse cx="136.6" cy="438.6" rx="1.5" ry="0.8"/><ellipse cx="149" cy="438.6" rx="1.5" ry="0.8"/><rect x="140" y="439.6" width="5.4" height="0.7"/></g>
</g>
<g>
<circle cx="271.6" cy="436.4" r="17.4" fill="#f5a35f"/>
<rect x="260.2" y="427.4" width="25.4" height="16" rx="0.9" fill="#434c56"/>
<rect x="262" y="429.2" width="21.8" height="12.6" fill="#eaf5fb"/>
<rect x="262" y="429.2" width="21.8" height="2" fill="#3fa7d6"/>
<rect x="258.4" y="443.4" width="29.2" height="1.6" rx="0.6" fill="#7d8791"/>
<rect x="265.6" y="437.4" width="2.3" height="3.6" fill="#f2b01e"/><rect x="269.2" y="434.4" width="2.3" height="6.6" fill="#2f7fc1"/><rect x="272.8" y="435.8" width="2.3" height="5.2" fill="#37474f"/><rect x="276.4" y="433.2" width="2.3" height="7.8" fill="#e2493b"/>
</g>
<g>
<circle cx="378.5" cy="435.8" r="16" fill="#e93a2f"/>
<g fill="none" stroke="#fff" stroke-width="1.1" stroke-linejoin="round" stroke-linecap="round">
<rect x="369.8" y="427.2" width="17.4" height="12.4" rx="0.8"/>
<path d="M378.5 439.8 V443.6 M378.5 442.2 L375.4 445.2 M378.5 442.2 L381.6 445.2"/>
<path d="M378.5 430.6 q-3 -1.6 -6 -0.6 v6.6 q3 -1 6 0.6 q3 -1.6 6 -0.6 v-6.6 q-3 -1 -6 0.6 z M378.5 430.6 V437.2" stroke-width="0.9"/>
</g>
</g>
<g>
<g stroke="#733a88" stroke-width="1.25" fill="none"><line x1="477.7" y1="418" x2="477.7" y2="451.8"/><line x1="472.2" y1="422.7" x2="509.6" y2="422.7"/>
<line x1="486" y1="422.7" x2="486" y2="427"/><line x1="501.4" y1="422.7" x2="501.4" y2="427"/></g>
<rect x="480.4" y="428.6" width="27.8" height="18.8" rx="1.8" fill="#f7dc74" stroke="#733a88" stroke-width="1.25"/>
<circle cx="486" cy="428" r="2.3" fill="#f08a3c" stroke="#733a88" stroke-width="0.8"/><circle cx="501.4" cy="428" r="2.3" fill="#f08a3c" stroke="#733a88" stroke-width="0.8"/>
<rect x="484.2" y="434.8" width="4.8" height="10.2" fill="#7fb0e6" stroke="#3a4f8a" stroke-width="0.8"/>
<path d="M484 434.8 l2.6 -2.8 l2.6 2.8 z" fill="#3a4f8a"/>
<g stroke="#3a4f8a" stroke-width="0.6"><line x1="484.6" y1="437.2" x2="488.6" y2="437.2"/><line x1="484.6" y1="439.4" x2="488.6" y2="439.4"/><line x1="484.6" y1="441.6" x2="488.6" y2="441.6"/><line x1="484.6" y1="443.6" x2="488.6" y2="443.6"/></g>
<text x="499" y="438.4" text-anchor="middle" font-family="Liberation Sans" font-weight="bold" font-size="4.4" fill="#f0994a" textLength="10.4" lengthAdjust="spacingAndGlyphs">FOR</text>
<text x="499" y="444.6" text-anchor="middle" font-family="Liberation Sans" font-weight="bold" font-size="4.4" fill="#f0994a" textLength="12.4" lengthAdjust="spacingAndGlyphs">RENT</text>
</g>
<g>
<circle cx="606.6" cy="427.2" r="6.8" fill="url(#pg)"/>
<path d="M593.3 445.7 v-3.6 q0 -7.6 8 -7.6 h10.6 q8 0 8 7.6 v3.6 q0 3 -3 3 h-20.6 q-3 0 -3 -3 z" fill="#f78f1e"/>
<path d="M593.3 445.7 v-3.6 q0 -7.6 8 -7.6 h10.6 q8 0 8 7.6 v3.6 q0 3 -3 3 h-20.6 q-3 0 -3 -3 z" fill="url(#pg)" opacity="0.35"/>
<circle cx="606.6" cy="446" r="7.8" fill="#fde9b4"/>
<circle cx="606.6" cy="441.8" r="1.1" fill="#f57f1e"/><rect x="605.6" y="444" width="2" height="5.6" rx="0.6" fill="#f57f1e"/>
</g>
<g>
<path d="M711.4 424 q0 -2.5 2.5 -2.5 h26 q2.5 0 2.5 2.5 v23.2 q0 2.5 -2.5 2.5 h-11.4 l2 3 l-6.4 -3 h-10.2 q-2.5 0 -2.5 -2.5 z" fill="#d2d9e1"/>
<path d="M742.4 432 v15.2 q0 2.5 -2.5 2.5 h-11.4 l2 3 l-6.4 -3 h-8 z" fill="#bcc5ce" opacity="0.6"/>
<g fill="#41464b"><rect x="724.1" y="426.3" width="4.2" height="4.4" rx="0.7" transform="rotate(0.0 726.2 436)"/><rect x="724.1" y="426.3" width="4.2" height="4.4" rx="0.7" transform="rotate(45.0 726.2 436)"/><rect x="724.1" y="426.3" width="4.2" height="4.4" rx="0.7" transform="rotate(90.0 726.2 436)"/><rect x="724.1" y="426.3" width="4.2" height="4.4" rx="0.7" transform="rotate(135.0 726.2 436)"/><rect x="724.1" y="426.3" width="4.2" height="4.4" rx="0.7" transform="rotate(180.0 726.2 436)"/><rect x="724.1" y="426.3" width="4.2" height="4.4" rx="0.7" transform="rotate(225.0 726.2 436)"/><rect x="724.1" y="426.3" width="4.2" height="4.4" rx="0.7" transform="rotate(270.0 726.2 436)"/><rect x="724.1" y="426.3" width="4.2" height="4.4" rx="0.7" transform="rotate(315.0 726.2 436)"/><circle cx="726.2" cy="436" r="7.3"/></g>
<circle cx="726.2" cy="436" r="4.4" fill="#f1f1f6"/>
</g>
<text x="46" y="386.8" class="it">Алоқа ва</text>
<text x="46" y="397" class="it">ахборотлаштириш</text>
<text x="46" y="407.4" class="iv">588,6 млрд. сўм</text>
<text x="165.4" y="392.1" class="it">Транспорт хизматлари</text>
<text x="165.4" y="402.3" class="iv">2 843,8 млрд. сўм</text>
<text x="293.4" y="387.4" class="it">Яшаш ва</text>
<text x="293.4" y="397.6" class="it">овқатланиш</text>
<text x="293.4" y="407.8" class="iv">639,4 млрд. сўм</text>
<text x="397.9" y="392.5" class="it">Кўчмас мулк</text>
<text x="397.9" y="402.7" class="iv">269,8 млрд. сўм</text>
<text x="510.4" y="392" class="it">Соғлиқни сақлаш</text>
<text x="510.4" y="402.7" class="iv">290,2 млрд. сўм</text>
<text x="624" y="385.3" class="it">Компютер, маиший</text>
<text x="624" y="395.6" class="it">товарлар таъмирлаш</text>
<text x="624" y="405.8" class="iv">320,5 млрд. сўм</text>
<text x="747.1" y="388.8" class="it">Меъморчилик</text>
<text x="747.1" y="399" class="it">Муҳандислик</text>
<text x="747.1" y="409.2" class="iv">121,4 млрд. сўм</text>
<text x="42.3" y="435" class="it">Молиявий хизматлар</text>
<text x="42.3" y="444.6" class="iv">2 943,8 млрд. сўм</text>
<text x="165" y="433.8" class="it">Автотранспорт хизмати</text>
<text x="165" y="444" class="iv">2 555,9 млрд. сўм</text>
<text x="290" y="432.3" class="it">Савдо хизматлари</text>
<text x="290" y="442.6" class="iv">4 179,8 млрд. сўм</text>
<text x="398.3" y="432.3" class="it">Таълим соҳаси</text>
<text x="398.3" y="443" class="iv">960,7 млрд. сўм</text>
<text x="514" y="433" class="it">Ижара хизматлари</text>
<text x="514" y="443.2" class="iv">311,8 млрд. сўм</text>
<text x="627" y="435.4" class="it">Шахсий хизматлар</text>
<text x="627" y="445.6" class="iv">355,7 млрд. сўм</text>
<text x="747.7" y="433" class="it">Бошқа хизматлар</text>
<text x="747.7" y="443.2" class="iv">489,7 млрд. сўм</text>
</svg>
</body></html>
